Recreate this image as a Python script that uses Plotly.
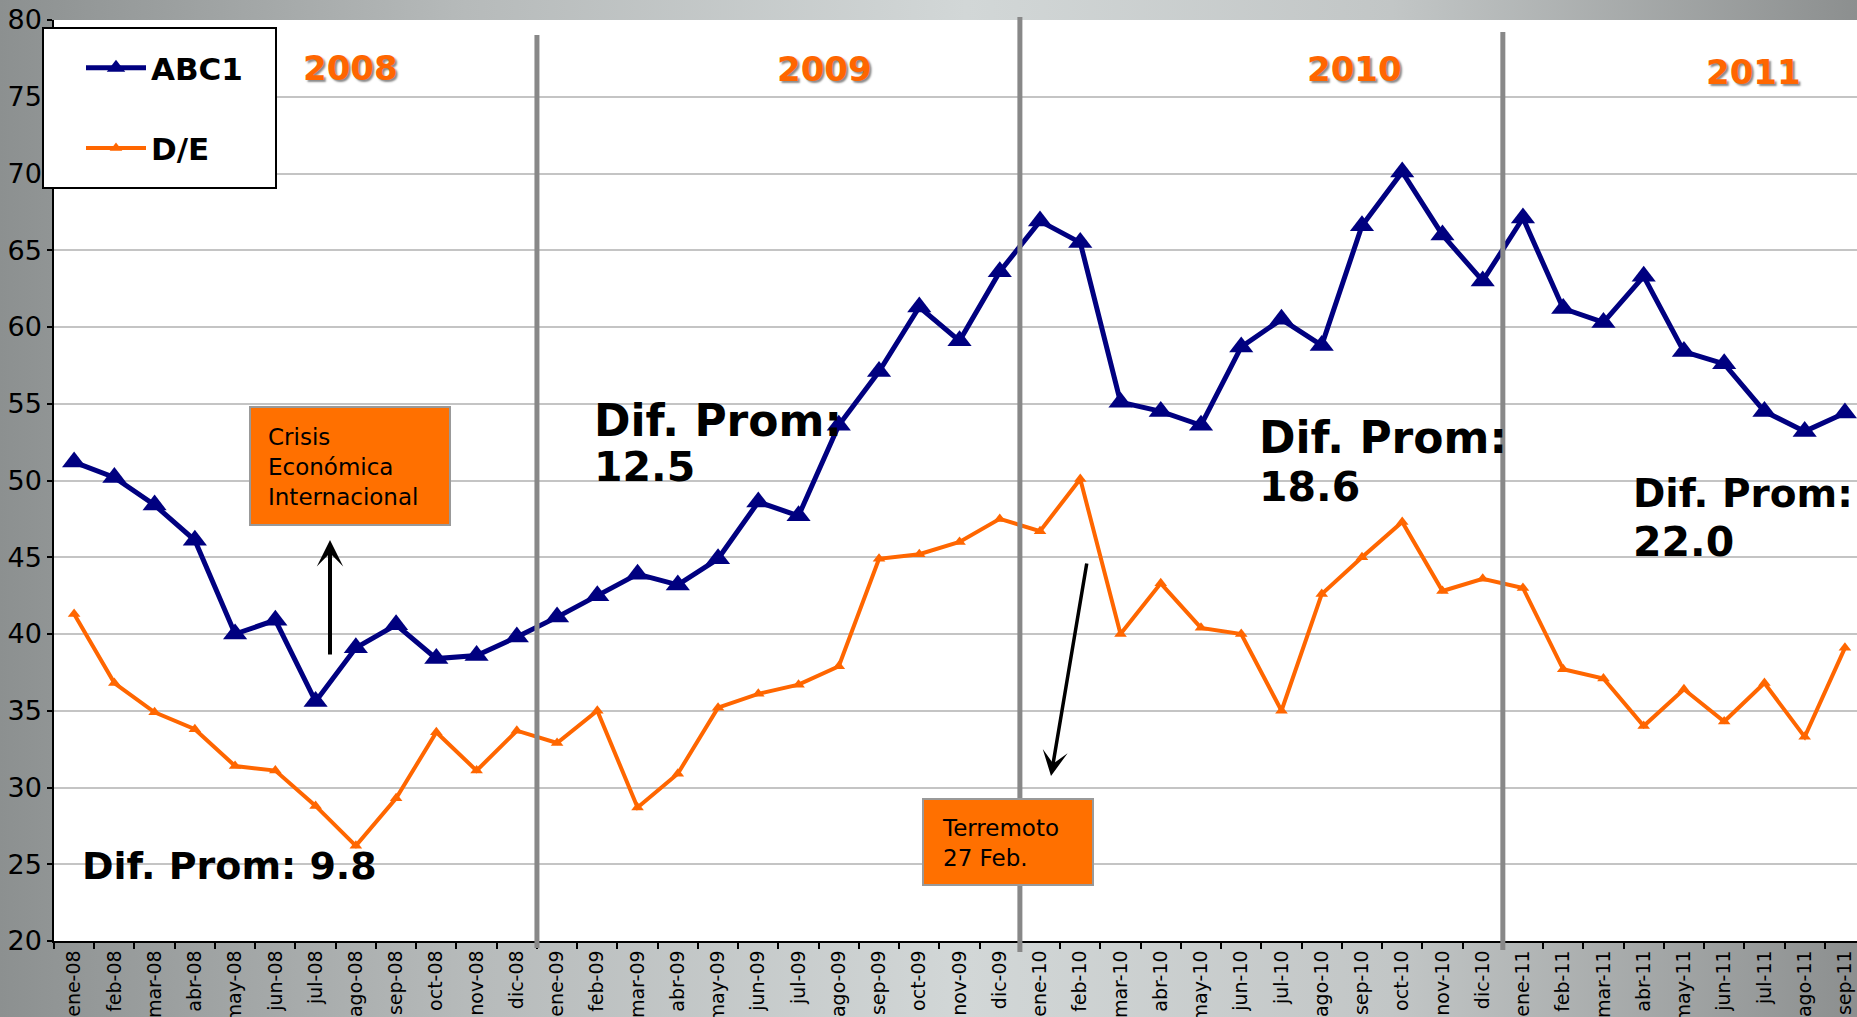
import base64
import plotly.graph_objects as go

# ---------------- data ----------------
categories = [
    "ene-08", "feb-08", "mar-08", "abr-08", "may-08", "jun-08", "jul-08", "ago-08", "sep-08", "oct-08", "nov-08", "dic-08",
    "ene-09", "feb-09", "mar-09", "abr-09", "may-09", "jun-09", "jul-09", "ago-09", "sep-09", "oct-09", "nov-09", "dic-09",
    "ene-10", "feb-10", "mar-10", "abr-10", "may-10", "jun-10", "jul-10", "ago-10", "sep-10", "oct-10", "nov-10", "dic-10",
    "ene-11", "feb-11", "mar-11", "abr-11", "may-11", "jun-11", "jul-11", "ago-11", "sep-11",
]
abc1 = [51.2, 50.2, 48.4, 46.1, 40.0, 40.9, 35.6, 39.1, 40.6, 38.4, 38.6, 39.8,
        41.1, 42.5, 43.9, 43.2, 44.9, 48.6, 47.7, 53.6, 57.1, 61.3, 59.1, 63.6,
        66.9, 65.5, 55.1, 54.5, 53.6, 58.7, 60.5, 58.8, 66.6, 70.1, 66.0, 63.0,
        67.1, 61.2, 60.3, 63.3, 58.4, 57.6, 54.5, 53.2, 54.4]
de = [41.3, 36.8, 34.9, 33.8, 31.4, 31.1, 28.8, 26.2, 29.3, 33.6, 31.1, 33.7,
      32.9, 35.0, 28.7, 30.9, 35.2, 36.1, 36.7, 37.9, 44.9, 45.2, 46.0, 47.5,
      46.7, 50.1, 40.0, 43.3, 40.4, 40.0, 35.0, 42.6, 45.0, 47.3, 42.8, 43.6,
      43.0, 37.7, 37.1, 34.0, 36.4, 34.3, 36.8, 33.3, 39.1]
years = ["2008", "2009", "2010", "2011"]
dif_prom = ["9.8", "12.5", "18.6", "22.0"]
year_breaks = [11.5, 23.5, 35.5]   # boundaries between dic and ene

# ---------------- layout geometry (pixels) ----------------
W, H = 1857, 1017
PL, PR, PT, PB = 54, 1857, 20, 941
XR = [-0.5, 44.3]


def px(x):
    return (x - PL) / (PR - PL)


def py(y):
    return (PB - y) / (PB - PT)


def cat_paper(c):
    return (c - XR[0]) / (XR[1] - XR[0])


NAVY = "#000080"
ORANGE = "#ff6600"
BOXFILL = "#ff7000"

fig = go.Figure()
fig.add_trace(go.Scatter(
    x=categories, y=abc1, name="ABC1", mode="lines+markers", legendgroup="a",
    line=dict(color=NAVY, width=5),
    marker=dict(symbol="triangle-up", size=21, color=NAVY),
))
fig.add_trace(go.Scatter(
    x=categories, y=de, name="D/E", mode="lines+markers", legendgroup="b",
    line=dict(color=ORANGE, width=4),
    marker=dict(symbol="triangle-up", size=11, color=ORANGE),
))

# background gradient as svg image
svg = f'''<svg xmlns="http://www.w3.org/2000/svg" width="{W}" height="{H}" viewBox="0 0 {W} {H}" preserveAspectRatio="none">
<defs><linearGradient id="g" x1="0" y1="0" x2="1" y2="0">
<stop offset="0" stop-color="#8c9090"/>
<stop offset="0.25" stop-color="#b6baba"/>
<stop offset="0.52" stop-color="#d2d7d7"/>
<stop offset="0.75" stop-color="#c2c6c6"/>
<stop offset="1" stop-color="#8c8f8f"/>
</linearGradient></defs>
<rect x="0" y="0" width="{W}" height="{H}" fill="url(#g)"/>
</svg>'''
src = "data:image/svg+xml;base64," + base64.b64encode(svg.encode()).decode()

shapes = [
    dict(type="rect", xref="paper", yref="paper", x0=0, x1=1, y0=0, y1=1,
         fillcolor="white", line=dict(width=0), layer="below"),
]
vline_tops = [35, 17, 32]
vline_bottoms = [948, 952, 950]
for b, t, bt in zip(year_breaks, vline_tops, vline_bottoms):
    xp = cat_paper(b)
    shapes.append(dict(type="line", xref="paper", yref="paper", x0=xp, x1=xp,
                       y0=py(bt), y1=py(t), line=dict(color="#888888", width=5), layer="above"))
# legend box
shapes.append(dict(type="rect", xref="paper", yref="paper", x0=px(43), x1=px(276), y0=py(188), y1=py(28),
                   fillcolor="white", line=dict(color="black", width=2), layer="above"))
# note boxes
shapes.append(dict(type="rect", xref="paper", yref="paper", x0=px(250), x1=px(450), y0=py(525), y1=py(407),
                   fillcolor=BOXFILL, line=dict(color="#999999", width=2), layer="above"))
shapes.append(dict(type="rect", xref="paper", yref="paper", x0=px(923), x1=px(1093), y0=py(885), y1=py(799),
                   fillcolor=BOXFILL, line=dict(color="#999999", width=2), layer="above"))

ann = []
year_pos = [(350, 68), (824, 69), (1354, 69), (1753, 72)]
for txt, (x, y) in zip(years, year_pos):
    ann.append(dict(text="<b>" + txt + "</b>", xref="paper", yref="paper", x=px(x), y=py(y),
                    xanchor="center", yanchor="middle", showarrow=False,
                    font=dict(family="DejaVu Sans", size=34, color=ORANGE, shadow="2px 2px 2px #8a8a8a")))

BOLD = dict(family="DejaVu Sans", size=41, color="black")
ann.append(dict(text="<b>Dif. Prom: " + dif_prom[0] + "</b>", xref="paper", yref="paper", x=px(80), y=py(866),
                xanchor="left", yanchor="middle", showarrow=False, font=dict(BOLD, size=38)))
two_line_pos = [(592, 420, 467, 44), (1257, 437, 487, 44), (1631, 493, 542, 39)]
for val, (x, y1, y2, fs) in zip(dif_prom[1:], two_line_pos):
    ann.append(dict(text="<b>Dif. Prom:</b>", xref="paper", yref="paper", x=px(x), y=py(y1),
                    xanchor="left", yanchor="middle", showarrow=False, font=dict(BOLD, size=fs)))
    ann.append(dict(text="<b>" + val + "</b>", xref="paper", yref="paper", x=px(x), y=py(y2),
                    xanchor="left", yanchor="middle", showarrow=False, font=BOLD))

NOTE = dict(family="DejaVu Sans", size=23, color="black")
ann.append(dict(text="Crisis<br>Económica<br>Internacional", xref="paper", yref="paper", x=px(266), y=py(467),
                xanchor="left", yanchor="middle", align="left", showarrow=False, font=NOTE))
ann.append(dict(text="Terremoto<br>27 Feb.", xref="paper", yref="paper", x=px(940), y=py(843),
                xanchor="left", yanchor="middle", align="left", showarrow=False, font=NOTE))
# arrows
ann.append(dict(text="", xref="paper", yref="paper", x=px(330), y=py(540), ax=0, ay=116,
                showarrow=True, arrowhead=3, arrowwidth=4, arrowsize=1.1, arrowcolor="black"))
ann.append(dict(text="", xref="paper", yref="paper", x=px(1051), y=py(776), ax=36, ay=-214,
                showarrow=True, arrowhead=3, arrowwidth=3.5, arrowsize=1.2, arrowcolor="black"))

fig.update_layout(
    width=W, height=H,
    margin=dict(l=PL, r=W - PR, t=PT, b=H - PB, pad=0),
    paper_bgcolor="#a0a4a4",
    plot_bgcolor="rgba(0,0,0,0)",
    images=[dict(source=src, xref="paper", yref="paper", x=px(0), y=py(0),
                 sizex=px(W) - px(0), sizey=py(0) - py(H), xanchor="left", yanchor="top",
                 sizing="stretch", layer="below")],
    shapes=shapes,
    annotations=ann,
    showlegend=True,
    legend=dict(x=px(81), y=py(41), xanchor="left", yanchor="top", bgcolor="rgba(0,0,0,0)",
                borderwidth=0, font=dict(family="DejaVu Sans", size=31, color="black", weight="bold"),
                traceorder="grouped", tracegroupgap=37, itemwidth=60),
    xaxis=dict(type="category", range=XR, tickson="boundaries", ticks="outside", ticklen=6,
               tickcolor="black", tickwidth=1.5, showline=True, linecolor="black", linewidth=1.5,
               showgrid=False, tickangle=-90, automargin=False,
               tickfont=dict(family="DejaVu Sans", size=19, color="black")),
    yaxis=dict(range=[20, 80], dtick=5, ticks="outside", ticklen=5, tickcolor="black", tickwidth=1.5,
               showline=True, linecolor="black", linewidth=1.5, gridcolor="#c4c4c4", gridwidth=1.5,
               zeroline=False, automargin=False,
               tickfont=dict(family="DejaVu Sans", size=27, color="black")),
)

fig.write_html("out.html", config={"displayModeBar": False},
               post_script="document.body.style.margin='0';document.body.style.overflow='hidden';")
